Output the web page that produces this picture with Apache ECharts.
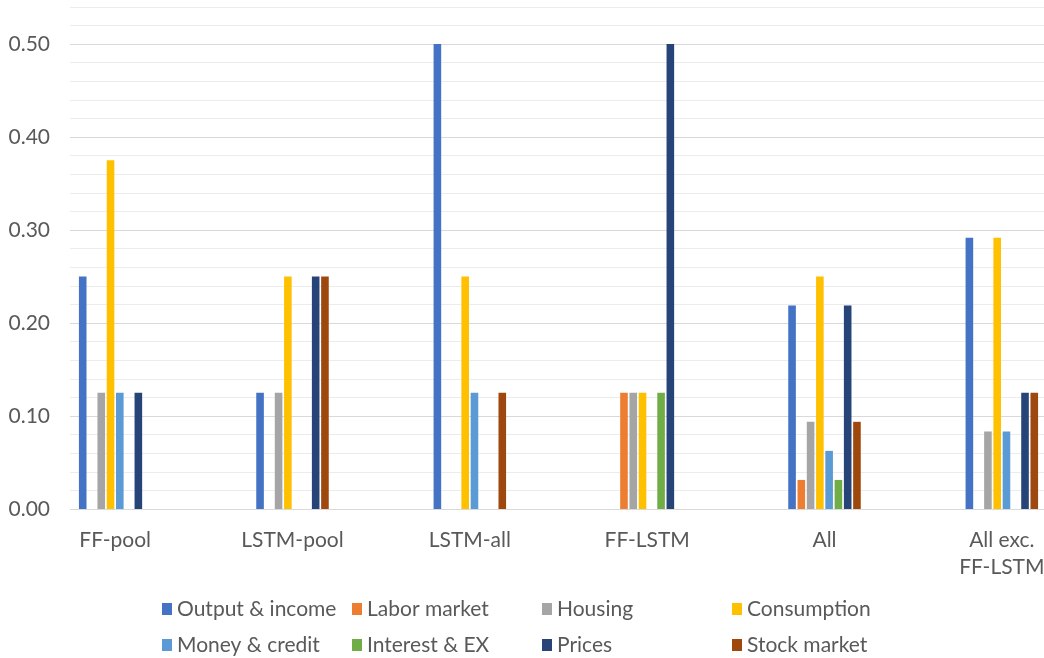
<!DOCTYPE html>
<html>
<head>
<meta charset="utf-8">
<script src="https://cdn.jsdelivr.net/npm/echarts@6/dist/echarts.min.js"></script>
<style>
  html, body { margin: 0; padding: 0; background: #fff; }
  #chart { width: 1044px; height: 658px; }
</style>
</head>
<body>
<div id="chart"></div>
<script>
// Model groups on the x axis
const categories = ['FF-pool', 'LSTM-pool', 'LSTM-all', 'FF-LSTM', 'All', 'All exc.\nFF-LSTM'];

// Share of each variable group, per model
const outputIncome  = [0.25,  0.125, 0.5,   0,     0.21875, 0.29167];
const laborMarket   = [0,     0,     0,     0.125, 0.03125, 0];
const housing       = [0.125, 0.125, 0,     0.125, 0.09375, 0.08333];
const consumption   = [0.375, 0.25,  0.25,  0.125, 0.25,    0.29167];
const moneyCredit   = [0.125, 0,     0.125, 0,     0.0625,  0.08333];
const interestEx    = [0,     0,     0,     0.125, 0.03125, 0];
const prices        = [0.125, 0.25,  0,     0.5,   0.21875, 0.125];
const stockMarket   = [0,     0.25,  0.125, 0,     0.09375, 0.125];

const seriesNames = ['Output & income', 'Labor market', 'Housing', 'Consumption',
                     'Money & credit', 'Interest & EX', 'Prices', 'Stock market'];
const seriesData = [outputIncome, laborMarket, housing, consumption,
                    moneyCredit, interestEx, prices, stockMarket];
const colors = ['#4472C4', '#ED7D31', '#A5A5A5', '#FFC000',
                '#5B9BD5', '#70AD47', '#264478', '#9E480E'];

const yMin = 0, yMax = 0.54, yStep = 0.02;
const FONT = 'Lato, "Open Sans", sans-serif';
const TEXT = '#595959';

const chart = echarts.init(document.getElementById('chart'), null, { renderer: 'canvas' });

const option = {
  animation: false,
  color: colors,
  grid: [
    // gridlines + value labels
    { left: 70, right: 0, top: 6.8, bottom: 149, outerBoundsMode: 'none', containLabel: false },
    // bars, with a wider category band
    { left: 26.5, width: 1064, top: 6.8, bottom: 149, outerBoundsMode: 'none', containLabel: false }
  ],
  xAxis: [
    {
      type: 'value', gridIndex: 0, show: false, min: 0, max: 1,
      axisLine: { show: false }, axisTick: { show: false },
      axisLabel: { show: false }, splitLine: { show: false }
    },
    {
      type: 'category', gridIndex: 1, data: categories,
      axisLine: { show: false }, axisTick: { show: false },
      splitLine: { show: false },
      axisLabel: {
        color: TEXT, fontFamily: FONT, fontSize: 21, lineHeight: 27,
        margin: 18, interval: 0
      }
    }
  ],
  yAxis: [
    {
      type: 'value', gridIndex: 0, min: yMin, max: yMax, interval: yStep,
      axisLine: { show: false }, axisTick: { show: false },
      axisLabel: {
        color: TEXT, fontFamily: FONT, fontSize: 21, margin: 20,
        formatter: v => (Math.round(v * 100) % 10 === 0 ? v.toFixed(2) : '')
      },
      splitLine: {
        show: true,
        lineStyle: { width: 1, color: ['#d9d9d9', '#ececec', '#ececec', '#ececec', '#ececec'] }
      }
    },
    {
      type: 'value', gridIndex: 1, min: yMin, max: yMax, interval: yStep,
      show: false, splitLine: { show: false }
    }
  ],
  legend: {
    left: 157, top: 591, width: 770,
    itemWidth: 10, itemHeight: 12, itemGap: 10,
    icon: 'rect',
    textStyle: {
      color: TEXT, fontFamily: FONT, fontSize: 21, width: 165, lineHeight: 26
    },
    data: seriesNames
  },
  series: seriesNames.map((name, i) => ({
    name,
    type: 'bar',
    xAxisIndex: 1,
    yAxisIndex: 1,
    barWidth: 7.6,
    barGap: '22%',
    data: seriesData[i],
    itemStyle: { color: colors[i] }
  }))
};

chart.setOption(option);
</script>
</body>
</html>
